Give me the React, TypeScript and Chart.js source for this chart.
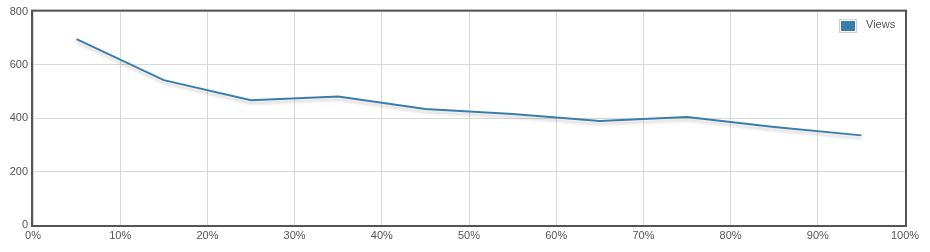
import React, { useEffect, useRef } from "react";
import { Chart, registerables } from "chart.js";

Chart.register(...registerables);

const xValues = [5, 15, 25, 35, 45, 55, 65, 75, 85, 95];
const views = [697, 543, 468, 482, 435, 416, 390, 405, 367, 336];
const seriesLabel = "Views";
const yTicks = [0, 200, 400, 600, 800];
const xTicks = [0, 10, 20, 30, 40, 50, 60, 70, 80, 90, 100];

const LINE_COLOR = "#3a7dab";
const TEXT_COLOR = "#545454";
const FONT = "Liberation Sans, Arial, sans-serif";

export default function App() {
  const ref = useRef<HTMLCanvasElement | null>(null);

  useEffect(() => {
    document.body.style.margin = "0";
    const ctx = ref.current!.getContext("2d")!;

    const shadowPlugin = {
      id: "lineShadow",
      beforeDatasetDraw(chart: any) {
        const c = chart.ctx;
        c.save();
        c.shadowColor = "rgba(0,0,0,0.18)";
        c.shadowBlur = 3;
        c.shadowOffsetX = 0;
        c.shadowOffsetY = 3;
      },
      afterDatasetDraw(chart: any) {
        chart.ctx.restore();
      },
    };

    const framePlugin = {
      id: "frame",
      afterDraw(chart: any) {
        const c = chart.ctx;
        const a = chart.chartArea;
        c.save();
        c.strokeStyle = TEXT_COLOR;
        c.lineWidth = 2;
        c.strokeRect(a.left - 1, a.top - 1, a.right - a.left + 2, a.bottom - a.top + 2);
        // legend
        const lx = 839, ly = 19;
        c.fillStyle = "rgba(255,255,255,0.85)";
        c.fillRect(833, 15, 66, 19);
        c.strokeStyle = "#cccccc";
        c.lineWidth = 1;
        c.strokeRect(lx + 0.5, ly + 0.5, 17, 13);
        c.fillStyle = LINE_COLOR;
        c.fillRect(lx + 2, ly + 2, 14, 10);
        c.fillStyle = TEXT_COLOR;
        c.font = "11px " + FONT;
        c.textBaseline = "middle";
        c.textAlign = "left";
        c.fillText(seriesLabel, 866, 24.5);
        c.restore();
      },
    };

    const chart = new Chart(ctx, {
      type: "line",
      data: {
        datasets: [
          {
            label: seriesLabel,
            data: xValues.map((x, i) => ({ x, y: views[i] })),
            borderColor: LINE_COLOR,
            backgroundColor: LINE_COLOR,
            borderWidth: 2,
            pointRadius: 0,
            tension: 0,
            fill: false,
          },
        ],
      },
      options: {
        animation: false,
        responsive: false,
        layout: { padding: { top: 10, right: 25, left: 0, bottom: 0 } },
        plugins: { legend: { display: false }, tooltip: { enabled: false } },
        scales: {
          x: {
            type: "linear",
            min: 0,
            max: 100,
            afterBuildTicks(scale: any) {
              scale.ticks = xTicks.map((v) => ({ value: v }));
            },
            afterFit(scale: any) {
              scale.height = 27;
            },
            grid: { color: "#d8d8d8", lineWidth: 1, drawTicks: false },
            border: { display: false },
            ticks: {
              color: TEXT_COLOR,
              font: { family: FONT, size: 11 },
              padding: 4,
              maxRotation: 0,
              autoSkip: false,
              callback: (v: any) => v + "%",
            },
          },
          y: {
            type: "linear",
            min: 0,
            max: 800,
            afterBuildTicks(scale: any) {
              scale.ticks = yTicks.map((v) => ({ value: v }));
            },
            afterFit(scale: any) {
              scale.width = 33;
            },
            grid: { color: "#d8d8d8", lineWidth: 1, drawTicks: false },
            border: { display: false },
            ticks: {
              color: TEXT_COLOR,
              font: { family: FONT, size: 11 },
              padding: 5,
              callback: (v: any) => String(v),
            },
          },
        },
      },
      plugins: [shadowPlugin, framePlugin],
    });
    return () => chart.destroy();
  }, []);

  return (
    <div style={{ position: "absolute", left: 0, top: 0, width: 930, height: 252 }}>
      <canvas ref={ref} width={930} height={252} style={{ display: "block" }} />
    </div>
  );
}
